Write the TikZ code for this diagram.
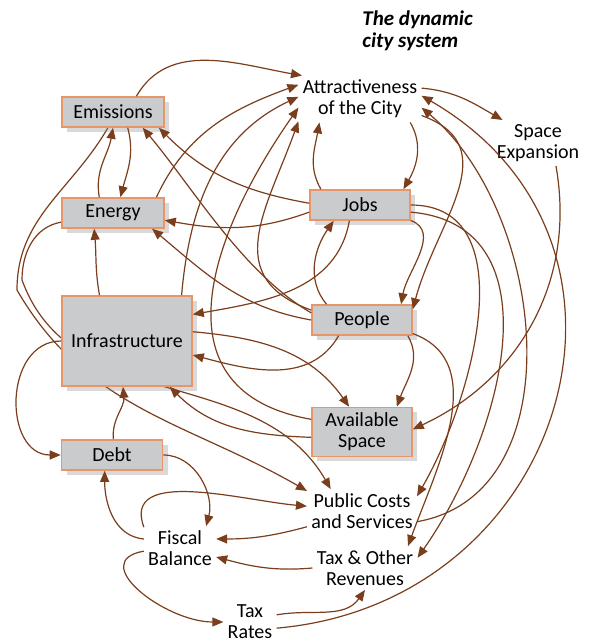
\documentclass[tikz,border=0pt]{standalone}
\usepackage{fontspec}
\setmainfont{Carlito}
\usetikzlibrary{arrows.meta,shadows}
\definecolor{linkbrown}{HTML}{7A3E1C}
\definecolor{boxedge}{HTML}{E8956A}
\definecolor{boxgray}{HTML}{C9CBCD}
\pgfdeclarelayer{behind}
\pgfsetlayers{behind,main}

\begin{document}
\begin{tikzpicture}[x=0.5pt,y=0.5pt,
		font=\fontsize{10}{10.5}\selectfont,
		box/.style={draw=boxedge,fill=boxgray,line width=0.8pt,inner sep=2pt,align=center,
			drop shadow={opacity=0.3,shadow xshift=2.5pt,shadow yshift=-2.5pt}},
		lbl/.style={align=center,inner sep=2pt},
		link/.style={draw=linkbrown,line width=0.6pt,-{Triangle[length=5.5pt,width=4.5pt]}}]
		\useasboundingbox (0,0) rectangle (589,643);
		
		\node[anchor=north west,align=left,inner sep=0pt,font=\fontsize{10.5}{11}\selectfont\bfseries\itshape] (title) at (362,633) {The dynamic\\city system};
		\node[lbl] (attr) at (360,544) {Attractiveness\\of the City};
		\node[lbl] (space) at (538,500) {Space\\Expansion};
		\node[box,minimum width=51pt,minimum height=15pt] (emis) at (113,531) {Emissions};
		\node[box,minimum width=51pt,minimum height=15pt] (energy) at (113,430) {Energy};
		\node[box,minimum width=50pt,minimum height=15pt] (jobs) at (360,438) {Jobs};
		\node[box,minimum width=65pt,minimum height=45pt] (infra) at (127,302) {Infrastructure};
		\node[box,minimum width=50pt,minimum height=15pt] (people) at (362,323) {People};
		\node[box,minimum width=50pt,minimum height=24.5pt] (avail) at (362,211) {Available\\Space};
		\node[box,minimum width=50.5pt,minimum height=15pt] (debt) at (112,188) {Debt};
		\node[lbl] (pubc) at (362,132) {Public Costs\\and Services};
		\node[lbl] (fiscal) at (180,95) {Fiscal\\Balance};
		\node[lbl] (taxrev) at (365,75) {Tax \& Other\\Revenues};
		\node[lbl] (taxrates) at (250,21) {Tax\\Rates};
		\coordinate (wemis) at (17,353);
		\coordinate (wenergy) at (22,363);
		
		% lines that pass behind the infrastructure box
		\begin{pgfonlayer}{behind}
		\draw[link] (emis.252) to[out=240,in=90] (wemis) to[out=-60,in=150] (pubc.160);
		\draw[link] (energy.190) to[out=190,in=90] (wenergy) to[out=-70,in=120] (pubc.145);
		\end{pgfonlayer}
		
		% into the attractiveness of the city
		\draw[link] (emis.34) to[out=60,in=170] (attr.158);
		\draw[link] (energy.20) to[out=65,in=200] (attr.167);
		\draw[link] (infra.40) to[out=85,in=205] (attr.178);
		\draw[link] (avail.166) to[out=170,in=235,looseness=1.3] (attr.188);
		\draw[link] (people.169) to[out=160,in=250,looseness=1.3] (attr.200);
		\draw[link] (jobs.158) to[out=120,in=260] (attr.210);
		\draw[link] (pubc.-11) to[out=10,in=-40] (attr.-8);
		\draw[link] (taxrates.-13) to[out=5,in=-30,looseness=1.35] (attr.3);
		\draw[link] (attr.-25) to[out=-60,in=60] (jobs.20);
		\draw[link] (attr.10) to[out=-5,in=150] (space.147);
		\draw[link] (space.-52) to[out=-80,in=25] (avail.3);
		\draw[link] (attr.-15) to[out=-20,in=75,looseness=1.2] (people.12);
		
		% jobs
		\draw[link] (jobs.178) to[out=170,in=-45] (emis.-19);
		\draw[link] (jobs.188) to[out=200,in=-10] (energy.-8);
		\draw[link] (jobs.236) to[out=-100,in=10] (infra.22);
		\draw[link] (people.156) to[out=130,in=235] (jobs.211);
		\draw[link] (jobs.-17) to[out=-20,in=80] (people.22);
		\draw[link] (jobs.east) to[out=0,in=60] (pubc.15);
		\draw[link] (jobs.-8) to[out=-5,in=55,looseness=1.1] (taxrev.11);
		
		% people
		\draw[link] (people.172) to[out=150,in=-50,looseness=0.8] (emis.-28);
		\draw[link] (people.180) to[out=170,in=-40] (energy.-22);
		\draw[link] (people.214) to[out=-120,in=-15] (infra.-12);
		\draw[link] (people.-19) to[out=-60,in=70] (avail.36);
		\draw[link] (people.-15) to[out=-20,in=70] (taxrev.27);
		
		% infrastructure, energy, emissions
		\draw[link] (infra.8) to[out=-5,in=125] (avail.117);
		\draw[link] (avail.186) to[out=178,in=-45] (infra.-47);
		\draw[link] (infra.121) to[out=100,in=-85] (energy.220);
		\draw[link] (infra.west) to[out=180,in=180,looseness=1.3] (debt.west);
		\draw[link] (debt.85) to[out=95,in=-85] (infra.-95);
		\draw[link] (emis.-47) to[out=-75,in=75] (energy.65);
		\draw[link] (energy.131) to[out=100,in=-100] (emis.south);
		
		% budget
		\draw[link] (debt.east) to[out=0,in=75] (fiscal.40);
		\draw[link] (fiscal.166) to[out=175,in=-90] (debt.-115);
		\draw[link] (fiscal.150) to[out=110,in=175] (pubc.175);
		\draw[link] (pubc.196) to[out=195,in=0] (fiscal.14);
		\draw[link] (taxrev.180) to[out=185,in=-15] (fiscal.-14);
		\draw[link] (fiscal.185) to[out=190,in=180,looseness=1.4] (taxrates.west);
		\draw[link] (taxrates.15) to[out=10,in=-125] (taxrev.south);
	    \end{tikzpicture}
\end{document}
